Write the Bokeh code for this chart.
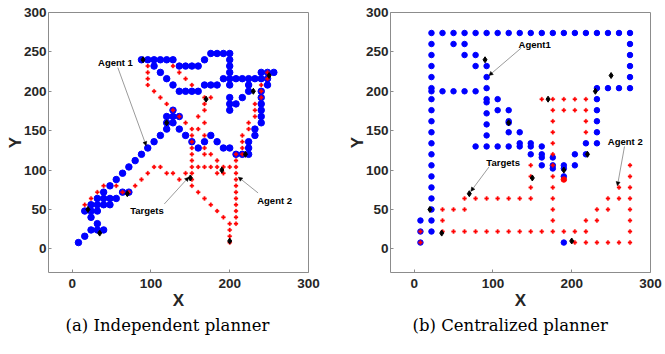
from bokeh.plotting import figure
from bokeh.layouts import row
from bokeh.models import Range1d, FixedTicker, Label, Arrow, NormalHead, Title
from bokeh.embed import file_html
from bokeh.resources import INLINE

# ---------------- panel (a): independent planner ----------------
a_blue_rows_y = [248, 240, 232, 224, 216, 208, 200, 192, 184, 176, 168, 160, 152, 144, 136,
                 128, 120, 112, 104, 96, 88, 80, 72, 64, 56, 48, 40, 32, 24, 16, 8]
a_blue_rows_x = [
    [176, 184, 192, 200],
    [88, 96, 104, 112, 120, 128, 168, 200],
    [104, 136, 144, 152, 160, 200],
    [112, 200, 240, 248, 256],
    [120, 192, 200, 208, 216, 224, 232, 240, 248],
    [128, 168, 176, 184, 200, 224, 248],
    [136, 144, 152, 160, 224, 240],
    [200, 216, 240],
    [200, 208, 240],
    [128, 200, 240],
    [120, 128, 136, 240],
    [120, 128, 240],
    [120, 136, 232],
    [112, 144, 176, 232],
    [104, 152, 168, 184, 224],
    [96, 160, 192, 200, 224],
    [88, 208, 216, 224],
    [80], [72], [64], [56], [48],
    [40, 64, 72],
    [32, 40, 48, 56],
    [24, 32, 40, 48],
    [16, 24, 32],
    [24], [32],
    [24, 32, 40],
    [16], [8]]

a_red_x = [96, 96, 96, 96, 104, 112, 120, 128, 136, 144, 152, 152, 152, 152, 152, 152, 152, 152, 152, 152,
           160, 168, 176, 184, 192, 200, 200, 200, 200,
           128, 136, 144, 152, 168, 176, 168, 168, 160, 168, 160, 168, 168, 168, 176, 184,
           160, 168, 176, 184, 192, 200, 184, 192,
           208, 208, 208, 208, 208, 208, 208, 208, 208, 208, 208, 208,
           216, 216, 216, 216, 224, 224, 232, 232, 232, 240, 240, 240, 248, 248,
           16, 24, 32, 40, 56, 64, 72, 80, 88, 96, 104, 112, 120, 128, 136, 144]
a_red_y = [232, 224, 216, 208, 200, 192, 184, 176, 168, 160, 152, 144, 136, 128, 120, 112, 104, 96, 88, 80,
           72, 64, 56, 48, 40, 32, 24, 16, 8,
           232, 224, 216, 208, 192, 192, 184, 176, 168, 160, 152, 144, 128, 120, 120, 112,
           104, 104, 104, 104, 104, 104, 96, 96,
           32, 40, 48, 56, 64, 72, 80, 88, 96, 104, 112, 120,
           120, 128, 136, 144, 152, 160, 168, 176, 184, 192, 200, 208, 216, 224,
           56, 64, 72, 80, 80, 72, 72, 80, 88, 96, 104, 104, 96, 96, 88, 96]

# ---------------- panel (b): centralized planner ----------------
b_blue_rows_y = [274, 260, 246, 232, 218, 204, 200, 190, 186, 176, 172, 162, 160, 158, 148, 144,
                 134, 130, 120, 116, 106, 102, 92, 78, 64, 50, 36, 22, 8]
b_blue_rows_x = [
    [22, 36, 50, 64, 78, 92, 106, 120, 134, 148, 162, 176, 190, 204, 218, 232, 246, 260, 274],
    [22, 50, 64, 274],
    [22, 64, 78, 274],
    [22, 78, 92, 274],
    [22, 92, 274],
    [22, 92, 232, 246, 260, 274],
    [22, 36, 50, 64, 78],
    [22, 92, 106, 232],
    [92],
    [22, 106, 120, 232],
    [92],
    [22, 120, 232],
    [120],
    [92],
    [22, 120, 134, 232],
    [92],
    [22, 134, 148, 218, 232],
    [78, 92, 106, 120, 134, 148, 162],
    [22, 148, 162, 204, 218],
    [162, 176],
    [22, 162, 176, 190, 204],
    [176, 190],
    [22, 190],
    [22], [22], [22],
    [8, 22], [8, 22], [8, 190]]

b_red_rows_y = [190, 176, 162, 148, 134, 120, 106, 92, 78, 64, 50, 36, 22, 8]
b_red_rows_x = [
    [162, 176, 190, 204, 218],
    [176, 190, 204, 218],
    [176, 218],
    [176, 218],
    [176],
    [176],
    [148, 176, 274],
    [148, 176, 274],
    [148, 176, 260, 274],
    [64, 78, 92, 106, 120, 134, 148, 176, 246, 260, 274],
    [36, 50, 64, 176, 232, 246, 274],
    [36, 176, 218, 232, 274],
    [8, 36, 50, 64, 78, 92, 106, 120, 134, 148, 162, 176, 190, 204, 218, 274],
    [8, 204, 218, 232, 246, 260, 274]]
b_red_big_x = [190]
b_red_big_y = [88]

# targets (shared)
target_x = [20, 35, 70, 90, 120, 150, 170, 190, 200, 220, 230, 250]
target_y = [50, 20, 70, 240, 160, 90, 190, 100, 10, 120, 200, 220]

x_ticks = [0, 100, 200, 300]
y_ticks = [0, 50, 100, 150, 200, 250, 300]

# annotations: (text, text_x, text_y, arrow_x0, arrow_y0, arrow_x1, arrow_y1)
a_notes = [("Agent 1", 55, 237, 58, 230, 94, 131),
           ("Targets", 95, 49, 117, 57, 148, 91),
           ("Agent 2", 257, 62, 236, 71, 211, 91)]
b_notes = [("Agent1", 153, 260, 136, 255, 95, 220),
           ("Targets", 113, 110, 95, 104, 72, 73),
           ("Agent 2", 268, 136, 267, 130, 258, 80)]

captions = ["(a) Independent planner", "(b) Centralized planner"]


def flatten(rows_y, rows_x):
    xs, ys = [], []
    for yv, xl in zip(rows_y, rows_x):
        for xv in xl:
            xs.append(xv)
            ys.append(yv)
    return xs, ys


BOX = "#8c8c8c"
TXT = "#262626"


def make_panel(blue, red, big, notes, caption, cap_offset, left_border, right_border, blue_size):
    p = figure(frame_width=260, frame_height=260,
               x_range=Range1d(-30, 300), y_range=Range1d(-30, 300),
               output_backend="svg", toolbar_location=None,
               min_border_left=left_border, min_border_right=right_border,
               min_border_top=12, min_border_bottom=20)
    p.xgrid.visible = False
    p.ygrid.visible = False
    p.outline_line_color = BOX
    p.outline_line_width = 1
    p.background_fill_color = "white"
    p.border_fill_color = "white"
    p.xaxis.ticker = FixedTicker(ticks=x_ticks)
    p.yaxis.ticker = FixedTicker(ticks=y_ticks)
    for ax in (p.xaxis[0], p.yaxis[0]):
        ax.axis_line_color = None
        ax.major_tick_in = 3
        ax.major_tick_out = 0
        ax.minor_tick_line_color = None
        ax.major_tick_line_color = BOX
        ax.major_label_text_font = "Liberation Sans"
        ax.major_label_text_font_style = "bold"
        ax.major_label_text_font_size = "13.5px"
        ax.major_label_text_color = TXT
        ax.axis_label_text_font = "Liberation Sans"
        ax.axis_label_text_font_style = "bold"
        ax.axis_label_text_font_size = "17px"
        ax.axis_label_text_color = TXT
    p.xaxis.axis_label = "X"
    p.yaxis.axis_label = "Y"
    p.xaxis.axis_label_standoff = 0
    p.yaxis.axis_label_standoff = -4
    p.xaxis.major_label_standoff = 6
    p.yaxis.major_label_standoff = 2

    p.scatter(blue[0], blue[1], marker="circle", size=blue_size,
              fill_color="#0000ff", line_color="#0000ff")
    if big is not None:
        p.scatter(big[0], big[1], marker="circle", size=blue_size,
                  fill_color="#ff0000", line_color="#ff0000")
    p.scatter(red[0], red[1], marker="plus", size=4,
              fill_color="#ff0000", line_color="#ff0000", line_width=0.3)
    p.scatter(target_x, target_y, marker="diamond", size=6,
              fill_color="black", line_color="black")

    for (t, tx, ty, x0, y0, x1, y1) in notes:
        p.add_layout(Arrow(end=NormalHead(size=4, fill_color="black", line_color="black", line_width=0.5),
                           x_start=x0, y_start=y0, x_end=x1, y_end=y1,
                           line_color="#707070", line_width=0.7))
        p.add_layout(Label(x=tx, y=ty, text=t, text_align="center", text_baseline="middle",
                           text_font="Liberation Sans", text_font_style="bold",
                           text_font_size="9.5px", text_color="black"))

    p.add_layout(Title(text=caption, align="left", offset=cap_offset, standoff=3,
                       text_font="DejaVu Serif", text_font_style="normal",
                       text_font_size="16.5px", text_color="black"), "below")
    return p


a_blue = flatten(a_blue_rows_y, a_blue_rows_x)
a_red = (a_red_x, a_red_y)
b_blue = flatten(b_blue_rows_y, b_blue_rows_x)
b_red = flatten(b_red_rows_y, b_red_rows_x)

p1 = make_panel(a_blue, a_red, None, a_notes, captions[0], 17, 48, 22, 6.5)
p2 = make_panel(b_blue, b_red, (b_red_big_x, b_red_big_y), b_notes, captions[1], 22, 60, 14, 5.5)

layout = row(p1, p2, spacing=0)
open("out.html", "w").write(file_html(layout, INLINE))
